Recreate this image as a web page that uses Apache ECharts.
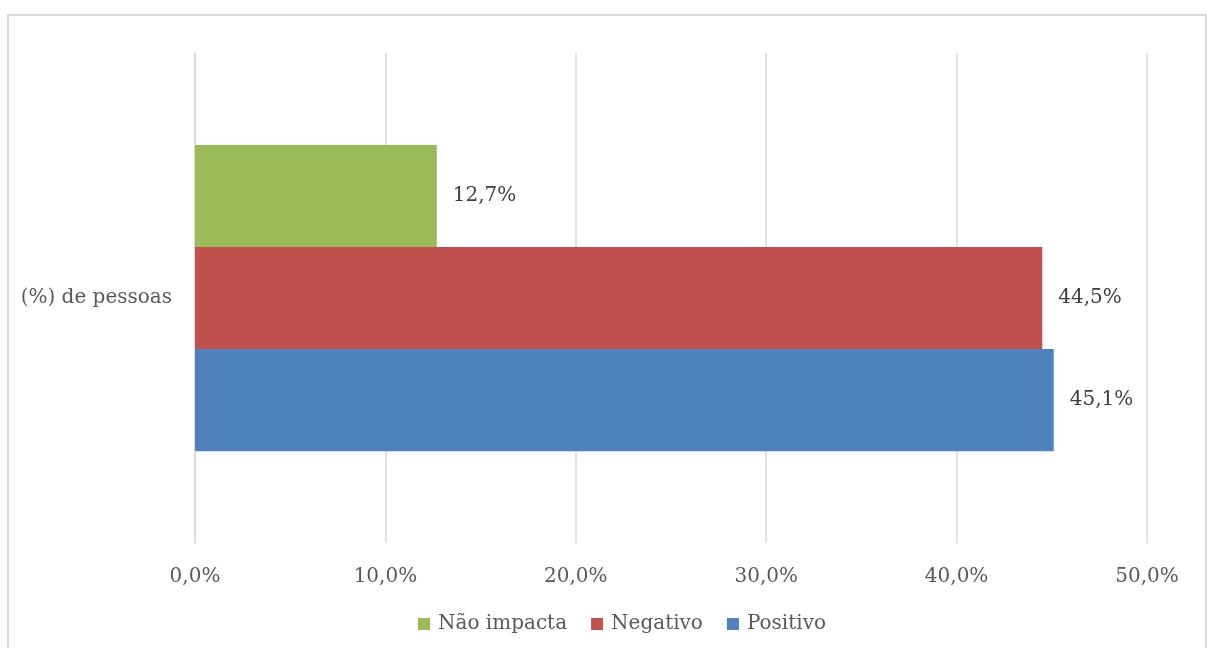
<!DOCTYPE html>
<html>
<head>
<meta charset="utf-8">
<script src="https://cdn.jsdelivr.net/npm/echarts@6/dist/echarts.min.js"></script>
<style>html,body{margin:0;padding:0;background:#fff;}#c{width:1207px;height:648px;}</style>
</head>
<body>
<div id="c"></div>
<script>
const categories = ['(%) de pessoas'];
const seriesNames = ['Não impacta', 'Negativo', 'Positivo'];
const naoImpacta = [12.7];
const negativo = [44.5];
const positivo = [45.1];
const xTicks = [0, 10, 20, 30, 40, 50];
const colors = {'Não impacta': '#9BBB59', 'Negativo': '#C0504D', 'Positivo': '#4F81BD'};
const values = {'Não impacta': naoImpacta, 'Negativo': negativo, 'Positivo': positivo};

const font = 'DejaVu Serif';
const fmt = v => v.toFixed(1).replace('.', ',') + '%';

const chart = echarts.init(document.getElementById('c'), null, {renderer: 'canvas'});
const order = ['Não impacta', 'Negativo', 'Positivo'];
chart.setOption({
  animation: false,
  backgroundColor: '#fff',
  graphic: [{
    type: 'rect', shape: {x: 8, y: 15, width: 1198, height: 660},
    style: {fill: 'none', stroke: '#d9d9d9', lineWidth: 2}, silent: true
  }],
  grid: {left: 195, right: 60, top: 53, bottom: 105, containLabel: false},
  legend: {
    data: seriesNames, left: 413, top: 609, itemWidth: 12, itemHeight: 12, itemGap: 24,
    icon: 'rect',
    textStyle: {fontFamily: font, fontSize: 20, color: '#595959', padding: [0, 0, 0, 3]}
  },
  xAxis: {
    type: 'value', min: xTicks[0], max: xTicks[xTicks.length - 1], interval: 10,
    axisLine: {show: false}, axisTick: {show: false},
    splitLine: {lineStyle: {color: '#d9d9d9', width: 1.5}},
    axisLabel: {formatter: v => fmt(v), fontFamily: font, fontSize: 20, color: '#595959', margin: 24}
  },
  yAxis: {
    type: 'category', data: categories,
    axisLine: {show: true, lineStyle: {color: '#d9d9d9', width: 1.5}}, axisTick: {show: false},
    axisLabel: {fontFamily: font, fontSize: 20, color: '#595959', margin: 23}
  },
  series: order.map(n => ({
    name: n, type: 'bar', data: values[n], barGap: '0%', barCategoryGap: '37.5%',
    itemStyle: {color: colors[n]},
    label: {show: true, position: 'right', distance: 16, formatter: p => fmt(p.value),
      fontFamily: font, fontSize: 20, color: '#404040'}
  }))
});
</script>
</body>
</html>
